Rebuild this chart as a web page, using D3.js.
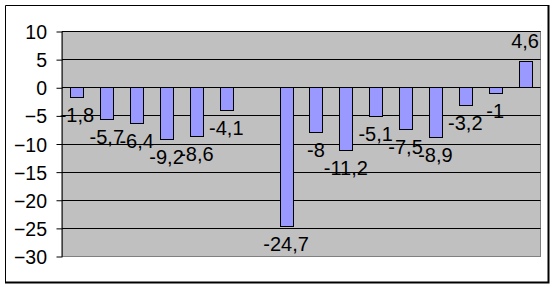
<!DOCTYPE html>
<html><head><meta charset="utf-8">
<script src="https://cdn.jsdelivr.net/npm/d3@7"></script>
<style>html,body{margin:0;padding:0;background:#fff;}svg{display:block;}</style>
</head><body>
<svg id="c" width="555" height="287"></svg>
<script>
const categories = ["1","2","3","4","5","6","7","8","9","10","11","12","13","14","15","16"];
const values = [-1.8,-5.7,-6.4,-9.2,-8.6,-4.1,null,-24.7,-8,-11.2,-5.1,-7.5,-8.9,-3.2,-1,4.6];
const yTicks = [10,5,0,-5,-10,-15,-20,-25,-30];

const svg = d3.select("#c");
const L = 62, R = 540, T = 31, B = 256;
const font = "'Liberation Sans', Arial, sans-serif";

// outer border
svg.append("path")
  .attr("d", "M5.5,283 V5.5 H549")
  .attr("fill","none").attr("stroke","#000").attr("stroke-width",1);
svg.append("path")
  .attr("d", "M5,282.5 H548.5 V5")
  .attr("fill","none").attr("stroke","#000").attr("stroke-width",2);

const x = d3.scaleBand().domain(categories).range([L, R]).paddingInner(0.565).paddingOuter(0.2825);
const y = d3.scaleLinear().domain([-30, 10]).range([B, T]);

// plot area
svg.append("rect").attr("x", L).attr("y", T).attr("width", R - L).attr("height", B - T)
  .attr("fill", "#C0C0C0").attr("stroke", "#808080").attr("stroke-width", 1)
  .attr("transform","translate(0.5,0.5)");

// gridlines
svg.append("g").selectAll("line").data(yTicks.filter(t => t !== -30)).join("line")
  .attr("x1", L).attr("x2", R + 0.5)
  .attr("y1", d => Math.round(y(d)) + 0.5).attr("y2", d => Math.round(y(d)) + 0.5)
  .attr("stroke", "#000").attr("stroke-width", 1);

// y axis
const axis = d3.axisLeft(y).tickValues(yTicks).tickSize(6).tickPadding(10).tickFormat(d3.format("d"));
const ag = svg.append("g").attr("transform", `translate(${L + 0.5},0.5)`).call(axis);
ag.select(".domain").attr("stroke", "#000").attr("d", `M-0.5,${T} V${B + 0.5}`);
ag.selectAll(".tick line").attr("stroke", "#000");
ag.selectAll(".tick text").attr("font-family", font).attr("font-size", "19.5px").attr("fill", "#000")
  .attr("dy", "0.36em").attr("x", -15.5);

// bars
const data = categories.map((c, i) => ({c, v: values[i]})).filter(d => d.v !== null);
svg.append("g").selectAll("rect").data(data).join("rect")
  .attr("x", d => Math.round(x(d.c)) + 0.5)
  .attr("width", 13)
  .attr("y", d => Math.round(y(Math.max(0, d.v))) + 0.5)
  .attr("height", d => Math.abs(Math.round(y(d.v)) - Math.round(y(0))))
  .attr("fill", "#9999FF").attr("stroke", "#000").attr("stroke-width", 1);

// labels
svg.append("g").selectAll("text").data(data).join("text")
  .attr("x", d => x(d.c) + x.bandwidth() / 2)
  .attr("y", d => d.v < 0 ? y(d.v) + 25 : y(d.v) - 13.5)
  .attr("text-anchor", "middle")
  .attr("font-family", font).attr("font-size", "20px").attr("fill", "#000")
  .text(d => String(d.v).replace(".", ","));
</script>
</body></html>
